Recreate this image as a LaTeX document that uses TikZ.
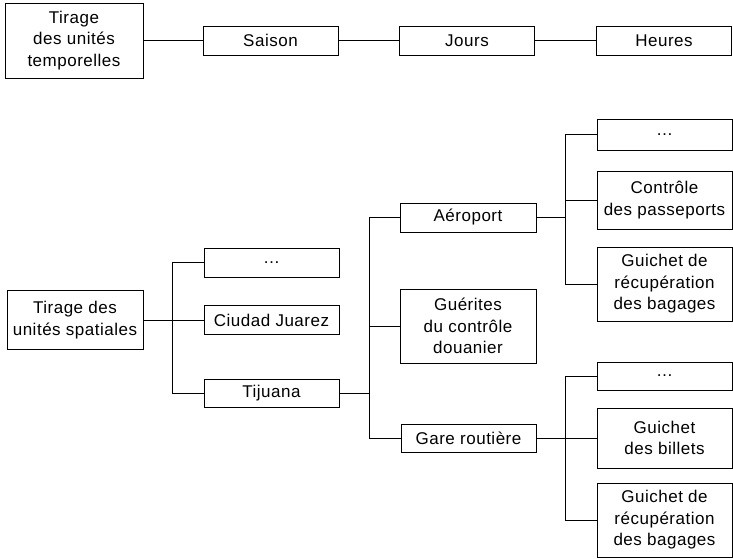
\documentclass[tikz,border=0pt]{standalone}
\usepackage{fontspec}
\setmainfont[LetterSpace=3]{Liberation Sans}
\begin{document}
\begin{tikzpicture}[x=1pt,y=-1pt,
  box/.style={draw, line width=0.9pt, align=center, inner sep=1pt,
    font=\fontsize{17}{21.5}\selectfont, minimum width=135pt},
  link/.style={line width=0.9pt}]
\useasboundingbox (0,0) rectangle (733,559);

% temporal units
\node[box, minimum width=138pt, minimum height=75pt] (temp) at (74,40.5) {Tirage\\des unités\\temporelles};
\node[box, minimum height=29pt] (saison) at (270.5,40.5) {Saison};
\node[box, minimum height=29pt] (jours) at (467,40.5) {Jours};
\node[box, minimum height=29pt] (heures) at (664,40.5) {Heures};

% spatial units
\node[box, minimum width=136pt, minimum height=59pt] (spat) at (75,320) {Tirage des\\unités spatiales};
\node[box, minimum height=29pt] (dotsa) at (271.5,262.5) {\dots};
\node[box, minimum height=29pt] (ciudad) at (271.5,320) {Ciudad Juarez};
\node[box, minimum height=28pt] (tij) at (271.5,393.5) {Tijuana};

\node[box, minimum width=136pt, minimum height=29pt] (aero) at (468,217.5) {Aéroport};
\node[box, minimum width=136pt, minimum height=74pt] (guer) at (468,326) {Guérites\\du contrôle\\douanier};
\node[box, minimum width=135pt, minimum height=28pt] (gare) at (468.5,438) {Gare routière};

\node[box, minimum height=31pt] (dotsb) at (664.5,134.5) {\dots};
\node[box, minimum height=58pt] (ctrl) at (664.5,200) {Contrôle\\des passeports};
\node[box, minimum height=74pt] (guia) at (664.5,284) {Guichet de\\récupération\\des bagages};

\node[box, minimum height=28pt] (dotsc) at (664.5,376) {\dots};
\node[box, minimum height=60pt] (bill) at (664.5,438) {Guichet\\des billets};
\node[box, minimum height=74pt] (guib) at (664.5,520) {Guichet de\\récupération\\des bagages};

% connectors
\draw[link] (temp.east) -- (saison.west);
\draw[link] (saison.east) -- (jours.west);
\draw[link] (jours.east) -- (heures.west);

\draw[link] (spat.east) -- (ciudad.west);
\draw[link] (dotsa.west) -- ++(-31,0) |- (tij.west);

\draw[link] (tij.east) -- ++(31,0);
\draw[link] (aero.west) -- ++(-30,0) |- (gare.west);
\draw[link] (guer.west) -- ++(-30,0);

\draw[link] (aero.east) -- ++(30,0);
\draw[link] (dotsb.west) -- ++(-31,0) |- (guia.west);
\draw[link] (ctrl.west) -- ++(-31,0);

\draw[link] (gare.east) -- (bill.west);
\draw[link] (dotsc.west) -- ++(-31,0) |- (guib.west);
\end{tikzpicture}
\end{document}
